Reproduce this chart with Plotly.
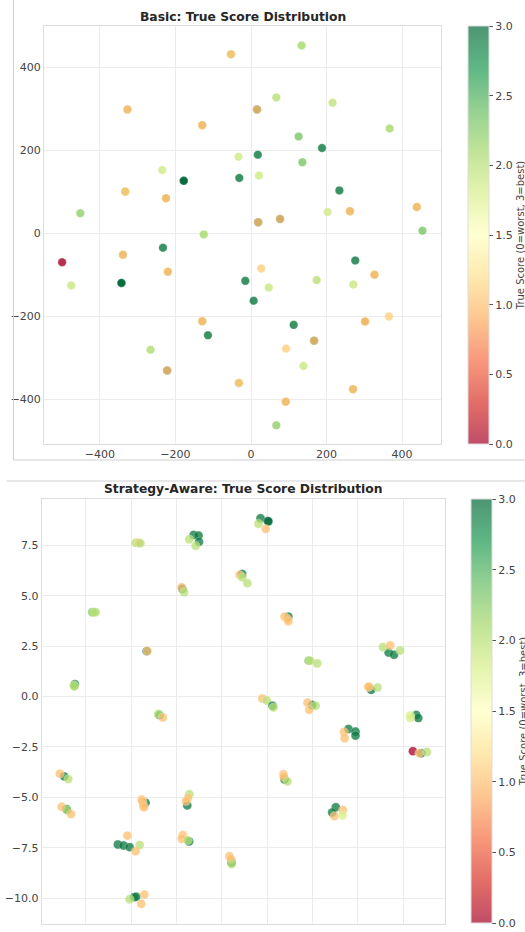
import plotly.graph_objects as go

W, H = 525, 932

# ---------------- Basic (top) data (coincident points listed twice) ----------------
basic_x = [-53, -53, 134, -327, -327, 16, 16, 67, 216, -129, -129, 367, 126, 188, -33,
           18, 136, -235, -178, -178, -31, 21, 234, -333, -333, -225, -225, -452, 203,
           262, 262, 439, 439, 19, 19, 77, 77, 454, -125, -500, -476, -339, -339, -233,
           -343, -343, -220, -220, 27, -15, 47, 7, -129, -129, -114, 174, 276, 271,
           327, 327, 302, 302, 365, 113, 167, 167, 93, 139, -266, -222, -222,
           -32, -32, 270, 270, 92, 92, 67]
basic_y = [431, 431, 452, 298, 298, 298, 298, 327, 314, 260, 260, 252, 233, 205, 184,
           189, 171, 152, 126, 126, 133, 139, 103, 100, 100, 84, 84, 48, 51,
           53, 53, 63, 63, 26, 26, 34, 34, 6, -3, -70, -126, -52, -52, -35,
           -120, -120, -93, -93, -85, -115, -131, -163, -212, -212, -246, -113, -66, -124,
           -100, -100, -213, -213, -201, -221, -259, -259, -278, -320, -281, -331, -331,
           -361, -361, -376, -376, -406, -406, -463]
basic_score = [2.0, 1.0, 2.1, 2.0, 0.95, 2.9, 0.95, 2.0, 1.95, 2.0, 0.95, 2.1, 2.3, 2.9, 1.85,
               2.9, 2.3, 1.85, 3.0, 3.0, 2.9, 1.85, 2.9, 2.0, 1.0, 2.0, 0.95, 2.2, 1.85,
               2.0, 0.95, 2.0, 0.95, 2.9, 0.95, 2.9, 0.95, 2.3, 2.1, 0.0, 1.9, 2.0, 0.95, 2.9,
               3.0, 3.0, 2.0, 0.95, 1.1, 2.9, 1.9, 2.9, 2.0, 0.95, 2.9, 2.0, 2.9, 1.9,
               2.0, 0.95, 2.0, 0.9, 1.1, 2.9, 2.9, 0.95, 1.1, 1.9, 2.05, 2.9, 0.95,
               2.0, 1.0, 2.0, 0.95, 2.0, 0.95, 2.2]

# ---------------- Strategy-aware (bottom) data ----------------
sa_x = [1.71, 2.03, 2.06, 1.62, 1.94,
        -1.24, -1.02, -1.43, -1.00, -1.15,
        -3.80, -3.66, -3.59,
        0.90, 0.79, 0.91, 1.13,
        -1.74, -1.77, -1.66,
        -5.71, -5.63, -5.56,
        2.94, 2.77, 2.90, 2.94,
        -3.31, -3.28,
        3.83, 3.90, 4.21,
        7.36, 7.60, 7.11, 7.43, 7.87,
        -6.48, -6.52, -6.50,
        6.59, 6.46, 6.50, 6.87,
        1.79, 1.99, 2.24, 2.28,
        3.99, 3.78, 3.86, 4.14,
        -2.75, -2.80, -2.60,
        8.58, 8.67, 8.31, 8.32,
        5.59, 5.90, 5.90, 5.39, 5.42,
        8.80, 8.43, 8.71, 9.05,
        -6.95, -7.14, -6.77,
        2.77, 2.72, 2.74, 2.90,
        -6.84, -7.06, -6.81, -6.65,
        -3.36, -3.53, -3.50, -3.46, -3.43,
        -1.52, -1.43, -1.49, -1.57,
        5.03, 4.87, 5.34, 4.97, 5.33,
        -4.58, -4.33, -4.06, -4.16, -3.62, -3.80,
        -1.44, -1.72, -1.77, -1.50,
        0.43, 0.34, 0.41, 0.44,
        -3.86, -3.77, -4.06, -3.41, -3.55]
sa_y = [8.84, 8.71, 8.68, 8.57, 8.31,
        8.01, 7.98, 7.80, 7.67, 7.47,
        7.62, 7.62, 7.60,
        6.08, 6.03, 5.91, 5.62,
        5.34, 5.42, 5.17,
        4.18, 4.18, 4.18,
        3.96, 3.96, 3.85, 3.73,
        2.25, 2.26,
        1.78, 1.78, 1.64,
        2.18, 2.07, 2.45, 2.53, 2.28,
        0.61, 0.56, 0.50,
        0.33, 0.48, 0.48, 0.45,
        -0.10, -0.20, -0.46, -0.54,
        -0.42, -0.30, -0.66, -0.46,
        -0.92, -0.87, -1.04,
        -0.91, -1.07, -0.94, -1.07,
        -1.61, -1.74, -1.94, -1.76, -2.07,
        -2.81, -2.71, -2.81, -2.75,
        -3.96, -3.83, -4.09,
        -4.12, -3.86, -3.99, -4.21,
        -5.59, -5.47, -5.64, -5.83,
        -5.27, -5.11, -5.20, -5.40, -5.50,
        -5.40, -4.85, -5.03, -5.19,
        -5.49, -5.75, -5.63, -5.93, -5.90,
        -7.34, -7.39, -7.47, -6.90, -7.36, -7.67,
        -7.19, -6.87, -7.06, -7.13,
        -8.23, -7.92, -8.06, -8.31,
        -9.95, -9.93, -10.05, -9.82, -10.28]
sa_score = [2.9, 3.0, 3.0, 2.0, 1.0,
            2.9, 2.9, 2.0, 2.9, 2.0,
            2.0, 1.0, 2.0,
            2.9, 1.0, 2.0, 2.0,
            2.9, 1.0, 2.0,
            2.3, 2.1, 2.0,
            2.9, 1.0, 1.0, 1.0,
            2.9, 1.0,
            2.3, 2.0, 2.0,
            2.9, 2.9, 2.0, 1.0, 2.0,
            2.9, 2.0, 2.1,
            2.9, 1.0, 1.0, 2.0,
            1.0, 2.0, 2.9, 2.0,
            2.9, 1.0, 1.0, 2.0,
            2.9, 2.0, 1.0,
            2.9, 2.9, 1.8, 1.8,
            2.9, 2.9, 2.9, 1.0, 1.0,
            2.9, 0.0, 1.0, 2.0,
            2.9, 1.0, 2.0,
            2.9, 1.0, 1.0, 2.0,
            2.9, 1.0, 2.1, 1.0,
            2.9, 1.0, 1.0, 1.0, 1.0,
            2.9, 2.0, 1.0, 1.0,
            2.9, 2.9, 1.0, 1.0, 1.8,
            2.9, 2.9, 2.9, 1.0, 2.0, 1.0,
            2.9, 1.0, 1.0, 2.0,
            2.9, 1.0, 1.0, 2.0,
            2.9, 2.9, 2.0, 1.0, 1.0]

cb_ticks = [0.0, 0.5, 1.0, 1.5, 2.0, 2.5, 3.0]
cb_title = "True Score (0=worst, 3=best)"

# RdYlGn colormap
rdylgn = [(165, 0, 38), (215, 48, 39), (244, 109, 67), (253, 174, 97), (254, 224, 139),
          (255, 255, 191), (217, 239, 139), (166, 217, 106), (102, 189, 99), (26, 152, 80),
          (0, 104, 55)]
n = len(rdylgn) - 1
scale_solid = [[i / n, "rgb(%d,%d,%d)" % c] for i, c in enumerate(rdylgn)]
scale_alpha = [[i / n, "rgba(%d,%d,%d,0.7)" % c] for i, c in enumerate(rdylgn)]


def px(x):
    return x / W


def py(y):
    return 1 - y / H


fig = go.Figure()

axis_font = dict(family="DejaVu Sans", size=11, color="#444444")


def add_panel(xs, ys, sc, xa, ya, opacity, size, cb_left, cb_top, cb_bot):
    fig.add_trace(go.Scatter(
        x=xs, y=ys, mode="markers", xaxis=xa, yaxis=ya, showlegend=False,
        marker=dict(color=sc, colorscale=scale_solid, cmin=0, cmax=3, size=size,
                    opacity=opacity, line=dict(color="rgba(255,255,255,0.6)", width=0.5),
                    showscale=False)))
    fig.add_trace(go.Scatter(
        x=[None], y=[None], mode="markers", xaxis=xa, yaxis=ya, showlegend=False,
        hoverinfo="skip",
        marker=dict(color=[0], colorscale=scale_alpha, cmin=0, cmax=3, showscale=True,
                    colorbar=dict(
                        x=px(cb_left), xanchor="left", xpad=0,
                        y=py((cb_top + cb_bot) / 2), yanchor="middle", ypad=0,
                        len=(cb_bot - cb_top) / H, lenmode="fraction",
                        thickness=21, thicknessmode="pixels",
                        outlinewidth=1, outlinecolor="#dddddd",
                        tickvals=cb_ticks, ticktext=["%.1f" % t for t in cb_ticks],
                        ticks="outside", ticklen=4, tickcolor="#555555", tickwidth=1,
                        tickfont=dict(family="DejaVu Sans", size=11, color="#444444"),
                        title=dict(text=cb_title, side="right",
                                   font=dict(family="DejaVu Sans", size=10, color="#444444")),
                    ))))


add_panel(basic_x, basic_y, basic_score, "x", "y", 0.8, 8.5, 468, 26, 444)
add_panel(sa_x, sa_y, sa_score, "x2", "y2", 0.75, 9, 471, 499, 923)

common = dict(showline=True, linecolor="#dddddd", linewidth=1, mirror=True,
              showgrid=True, gridcolor="#ececec", gridwidth=1, zeroline=False,
              ticks="", tickfont=axis_font, automargin=False)

fig.update_layout(
    width=W, height=H, margin=dict(l=0, r=0, t=0, b=0, autoexpand=False),
    paper_bgcolor="white", plot_bgcolor="white",
    xaxis=dict(domain=[px(44), px(441)], range=[-548, 503], anchor="y",
               tickvals=[-400, -200, 0, 200, 400], **common),
    yaxis=dict(domain=[py(444), py(26)], range=[-508, 499], anchor="x",
               tickvals=[-400, -200, 0, 200, 400], **common),
    xaxis2=dict(domain=[px(41.7), px(445.3)], range=[-7.94, 9.86], anchor="y2",
                tickvals=[-6, -4, -2, 0, 2, 4, 6, 8], ticklabelstandoff=3, **common),
    yaxis2=dict(domain=[py(924), py(499.3)], range=[-11.28, 9.78], anchor="x2",
                tickvals=[-10, -7.5, -5, -2.5, 0, 2.5, 5, 7.5], tickformat=".1f", **common),
    annotations=[
        dict(text="<b>Basic: True Score Distribution</b>", x=px(242.5), y=py(17),
             xref="paper", yref="paper", showarrow=False, xanchor="center", yanchor="middle",
             font=dict(family="DejaVu Sans", size=12.3, color="#262626")),
        dict(text="<b>Strategy-Aware: True Score Distribution</b>", x=px(243.5), y=py(489),
             xref="paper", yref="paper", showarrow=False, xanchor="center", yanchor="middle",
             font=dict(family="DejaVu Sans", size=12.3, color="#262626")),
    ],
    shapes=[
        dict(type="line", xref="paper", yref="paper", x0=px(13.5), x1=px(13.5),
             y0=py(0), y1=py(460), line=dict(color="#cfcfcf", width=1)),
        dict(type="line", xref="paper", yref="paper", x0=px(13.5), x1=1,
             y0=py(460), y1=py(460), line=dict(color="#cfcfcf", width=1)),
        dict(type="line", xref="paper", yref="paper", x0=px(6.5), x1=1,
             y0=py(481), y1=py(481), line=dict(color="#cfcfcf", width=1)),
    ],
)

fig.write_html(
    "out.html",
    config={"displayModeBar": False},
    post_script=("document.body.style.margin='0';"
                 "document.body.style.overflow='hidden';"
                 "document.documentElement.style.overflow='hidden';"),
)
